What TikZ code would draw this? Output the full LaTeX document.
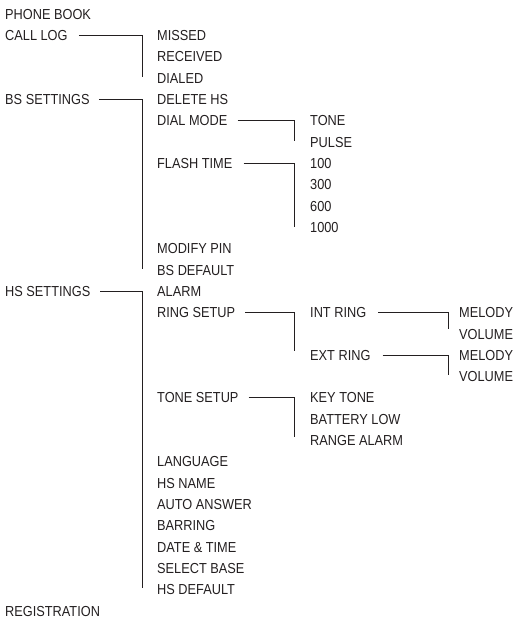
\documentclass[tikz,border=0pt]{standalone}
\usepackage{fontspec}
\setmainfont[FakeStretch=0.88]{Liberation Sans}
\definecolor{ink}{HTML}{231F20}
\begin{document}
\begin{tikzpicture}[x=1pt,y=-1pt,
  item/.style={anchor=west,inner sep=0pt,text height=10.4pt,text depth=0pt,
    font=\fontsize{14.5}{17}\selectfont,text=ink},
  conn/.style={draw=ink,line width=0.8pt}]
\useasboundingbox (0,0) rectangle (516,621);
\def\r{21.32}
% column 1
\node[item] (phonebook) at (5,{14+0*\r}) {PHONE BOOK};
\node[item] (calllog) at (5,{14+1*\r}) {CALL LOG};
\node[item] (bsset) at (5,{14+4*\r}) {BS SETTINGS};
\node[item] (hsset) at (5,{14+13*\r}) {HS SETTINGS};
\node[item] (reg) at (5,{14+28*\r}) {REGISTRATION};
% column 2
\node[item] (missed) at (157,{14+1*\r}) {MISSED};
\node[item] (received) at (157,{14+2*\r}) {RECEIVED};
\node[item] (dialed) at (157,{14+3*\r}) {DIALED};
\node[item] (deletehs) at (157,{14+4*\r}) {DELETE HS};
\node[item] (dialmode) at (157,{14+5*\r}) {DIAL MODE};
\node[item] (flash) at (157,{14+7*\r}) {FLASH TIME};
\node[item] (modpin) at (157,{14+11*\r}) {MODIFY PIN};
\node[item] (bsdef) at (157,{14+12*\r}) {BS DEFAULT};
\node[item] (alarm) at (157,{14+13*\r}) {ALARM};
\node[item] (ringsetup) at (157,{14+14*\r}) {RING SETUP};
\node[item] (tonesetup) at (157,{14+18*\r}) {TONE SETUP};
\node[item] (language) at (157,{14+21*\r}) {LANGUAGE};
\node[item] (hsname) at (157,{14+22*\r}) {HS NAME};
\node[item] (autoans) at (157,{14+23*\r}) {AUTO ANSWER};
\node[item] (barring) at (157,{14+24*\r}) {BARRING};
\node[item] (datetime) at (157,{14+25*\r}) {DATE \& TIME};
\node[item] (selbase) at (157,{14+26*\r}) {SELECT BASE};
\node[item] (hsdef) at (157,{14+27*\r}) {HS DEFAULT};
% column 3
\node[item] (tone) at (310,{14+5*\r}) {TONE};
\node[item] (pulse) at (310,{14+6*\r}) {PULSE};
\node[item] (f100) at (310,{14+7*\r}) {100};
\node[item] (f300) at (310,{14+8*\r}) {300};
\node[item] (f600) at (310,{14+9*\r}) {600};
\node[item] (f1000) at (310,{14+10*\r}) {1000};
\node[item] (intring) at (310,{14+14*\r}) {INT RING};
\node[item] (extring) at (310,{14+16*\r}) {EXT RING};
\node[item] (keytone) at (310,{14+18*\r}) {KEY TONE};
\node[item] (batlow) at (310,{14+19*\r}) {BATTERY LOW};
\node[item] (rangealarm) at (310,{14+20*\r}) {RANGE ALARM};
% column 4
\node[item] (imelody) at (459,{14+14*\r}) {MELODY};
\node[item] (ivolume) at (459,{14+15*\r}) {VOLUME};
\node[item] (emelody) at (459,{14+16*\r}) {MELODY};
\node[item] (evolume) at (459,{14+17*\r}) {VOLUME};
% connectors
\draw[conn] ([xshift=11pt]calllog.east) -| ([xshift=-15pt,yshift=1pt]dialed.west);
\draw[conn] ([xshift=9pt]bsset.east) -| ([xshift=-15pt,yshift=1pt]bsdef.west);
\draw[conn] ([xshift=10pt]hsset.east) -| ([xshift=-15pt,yshift=2pt]hsdef.west);
\draw[conn] ([xshift=10pt]dialmode.east) -| ([xshift=-16pt,yshift=1pt]pulse.west);
\draw[conn] ([xshift=11pt]flash.east) -| ([xshift=-16pt,yshift=0pt]f1000.west);
\draw[conn] ([xshift=10pt]ringsetup.east) -| ([xshift=-16pt,yshift=4pt]extring.west);
\draw[conn] ([xshift=10pt]tonesetup.east) -| ([xshift=-16pt,yshift=3pt]rangealarm.west);
\draw[conn] ([xshift=12pt]intring.east) -| ([xshift=-11pt,yshift=5pt]ivolume.west);
\draw[conn] ([xshift=12pt]extring.east) -| ([xshift=-11pt,yshift=1pt]evolume.west);
\end{tikzpicture}
\end{document}
